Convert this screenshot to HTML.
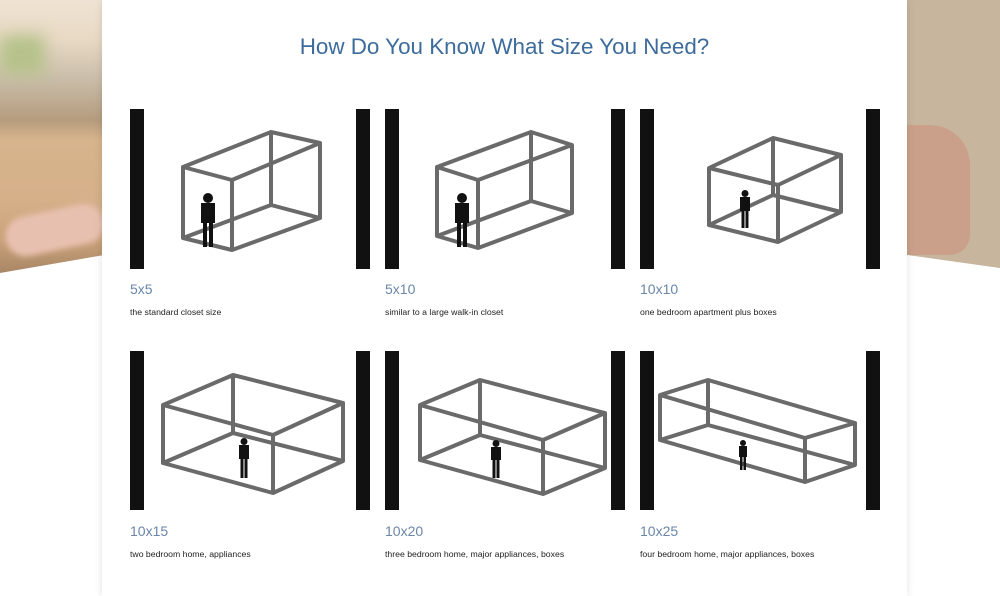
<!DOCTYPE html>
<html><head><meta charset="utf-8"><style>
body{margin:0;width:1000px;height:596px;position:relative;overflow:hidden;background:#fff;font-family:"Liberation Sans",sans-serif}
.lp{position:absolute;left:0;top:0;width:110px;height:275px;clip-path:polygon(0 0,110px 0,110px 254px,0 273px);
background:linear-gradient(180deg,#efe3d3 0,#e8d9c4 40px,#c9bca8 80px,#b59c7e 120px,#d7b48c 140px,#d5b089 200px,#caa27a 240px,#a78464 275px)}
.lp .g{position:absolute;left:0;top:35px;width:45px;height:40px;background:#b5c28a;filter:blur(8px)}
.lp .h{position:absolute;left:5px;top:210px;width:100px;height:40px;background:#e8c0b0;border-radius:20px;filter:blur(3px);transform:rotate(-12deg)}
.rp{position:absolute;left:900px;top:0;width:100px;height:270px;clip-path:polygon(0 0,100px 0,100px 268px,0 254px);background:#c8b59d}
.rp .h{position:absolute;left:0;top:125px;width:70px;height:130px;background:#caa08a;border-radius:0 40px 20px 0}
.panel{position:absolute;left:102px;top:0;width:805px;height:596px;background:#fff;box-shadow:0 0 8px rgba(0,0,0,.12)}
h1{position:absolute;left:0;width:805px;top:34px;margin:0;text-align:center;font-weight:normal;font-size:22.4px;color:#3d6c9c}
.lab{position:absolute;font-size:14px;color:#6a86a8}
.d{position:absolute;font-size:8.7px;color:#222}
</style></head><body>
<div class="lp"><div class="g"></div><div class="h"></div></div>
<div class="rp"><div class="h"></div></div>
<div class="panel"><h1>How Do You Know What Size You Need?</h1></div>
<svg style="position:absolute;left:0;top:0" width="1000" height="596">
<g fill="#111">
<rect x="130" y="109" width="14" height="160"/><rect x="356" y="109" width="14" height="160"/>
<rect x="385" y="109" width="14" height="160"/><rect x="611" y="109" width="14" height="160"/>
<rect x="640" y="109" width="14" height="160"/><rect x="866" y="109" width="14" height="160"/>
<rect x="130" y="351" width="14" height="159"/><rect x="356" y="351" width="14" height="159"/>
<rect x="385" y="351" width="14" height="159"/><rect x="611" y="351" width="14" height="159"/>
<rect x="640" y="351" width="14" height="159"/><rect x="866" y="351" width="14" height="159"/>
</g>
<g fill="none" stroke="#6a6a6a" stroke-width="4" stroke-linejoin="round">
<path d="M183 167L232 180L232 250L183 238Z M271 132L320 143L320 218L271 205Z M183 167L271 132 M232 180L320 143 M232 250L320 218 M183 238L271 205"/>
<path d="M437 167L478 180L478 248L437 236Z M531 132L572 145L572 213L531 201Z M437 167L531 132 M478 180L572 145 M478 248L572 213 M437 236L531 201"/>
<path d="M709 168L773 138L841 155L778 185Z M709 225L773 195L841 212L778 242Z M709 168V225 M773 138V195 M841 155V212 M778 185V242"/>
<path d="M163 405L233 375L343 403L273 435Z M163 463L233 433L343 461L273 493Z M163 405V463 M233 375V433 M343 403V461 M273 435V493"/>
<path d="M420 405L480 380L605 413L543 440Z M420 460L480 435L605 468L543 494Z M420 405V460 M480 380V435 M605 413V468 M543 440V494"/>
<path d="M660 395L708 380L855 423L805 438Z M660 440L708 425L855 465L805 482Z M660 395V440 M708 380V425 M855 423V465 M805 438V482"/>
</g>
<g fill="#111">
<g transform="translate(208,193)"><circle cx="0" cy="5" r="5"/><rect x="-7" y="10" width="14" height="20"/><rect x="-5" y="28" width="4" height="26"/><rect x="1" y="28" width="4" height="26"/></g>
<g transform="translate(462,193)"><circle cx="0" cy="5" r="5"/><rect x="-7" y="10" width="14" height="20"/><rect x="-5" y="28" width="4" height="26"/><rect x="1" y="28" width="4" height="26"/></g>
<g transform="translate(745,190)"><circle cx="0" cy="3.5" r="3.5"/><rect x="-5" y="7" width="10" height="14"/><rect x="-3.5" y="20" width="3" height="18"/><rect x="0.5" y="20" width="3" height="18"/></g>
<g transform="translate(244,438)"><circle cx="0" cy="3.5" r="3.5"/><rect x="-5" y="7" width="10" height="14"/><rect x="-3.5" y="20" width="3" height="20"/><rect x="0.5" y="20" width="3" height="20"/></g>
<g transform="translate(496,440)"><circle cx="0" cy="3.5" r="3.5"/><rect x="-5" y="7" width="10" height="13"/><rect x="-3.5" y="19" width="3" height="19"/><rect x="0.5" y="19" width="3" height="19"/></g>
<g transform="translate(743,440)"><circle cx="0" cy="3" r="3"/><rect x="-4" y="6" width="8" height="11"/><rect x="-3" y="16" width="2.5" height="14"/><rect x="0.5" y="16" width="2.5" height="14"/></g>
</g>
</svg>
<div class="lab" style="left:130px;top:281px">5x5</div>
<div class="lab" style="left:385px;top:281px">5x10</div>
<div class="lab" style="left:640px;top:281px">10x10</div>
<div class="d" style="left:130px;top:307px">the standard closet size</div>
<div class="d" style="left:385px;top:307px">similar to a large walk-in closet</div>
<div class="d" style="left:640px;top:307px">one bedroom apartment plus boxes</div>
<div class="lab" style="left:130px;top:523px">10x15</div>
<div class="lab" style="left:385px;top:523px">10x20</div>
<div class="lab" style="left:640px;top:523px">10x25</div>
<div class="d" style="left:130px;top:549px">two bedroom home, appliances</div>
<div class="d" style="left:385px;top:549px">three bedroom home, major appliances, boxes</div>
<div class="d" style="left:640px;top:549px">four bedroom home, major appliances, boxes</div>
</body></html>
